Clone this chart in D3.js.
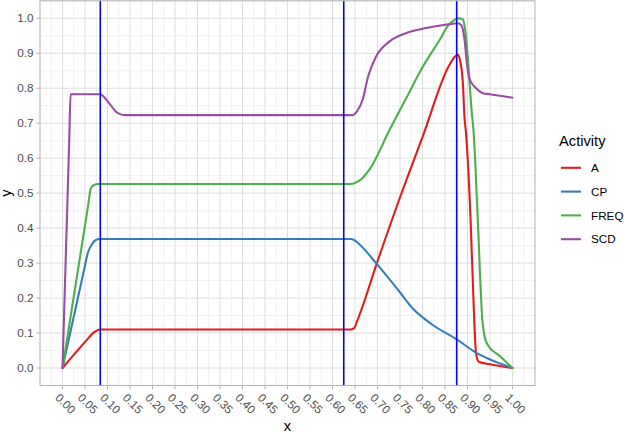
<!DOCTYPE html>
<html>
<head>
<meta charset="utf-8">
<script src="https://cdn.jsdelivr.net/npm/d3@7"></script>
<style>
  body { margin: 0; background: #fff; }
  text { font-family: "Liberation Sans", Arial, sans-serif; }
</style>
</head>
<body>
<div id="chart"></div>
<script>
// Data
var activities = ["A", "CP", "FREQ", "SCD"];

var aX = [0, 0.06, 0.067, 0.076, 0.084, 0.64, 0.648, 0.655, 0.70, 0.756, 0.80, 0.86, 0.872, 0.878, 0.884, 0.89, 0.893, 0.897, 0.907, 0.914, 0.919, 0.925, 0.95, 1.0];
var aY = [0, 0.089, 0.099, 0.107, 0.11, 0.11, 0.114, 0.135, 0.305, 0.509, 0.66, 0.867, 0.89, 0.896, 0.876, 0.81, 0.724, 0.667, 0.42, 0.17, 0.042, 0.018, 0.0105, 0];

var cpX = [0, 0.05, 0.056, 0.066, 0.074, 0.082, 0.64, 0.648, 0.656, 0.697, 0.749, 0.778, 0.823, 0.876, 0.919, 0.949, 1.0];
var cpY = [0, 0.293, 0.328, 0.355, 0.366, 0.369, 0.369, 0.366, 0.358, 0.30, 0.218, 0.171, 0.123, 0.082, 0.044, 0.025, 0];

var freqX = [0, 0.057, 0.063, 0.07, 0.078, 0.64, 0.655, 0.668, 0.682, 0.727, 0.764, 0.801, 0.838, 0.858, 0.872, 0.878, 0.885, 0.89, 0.897, 0.903, 0.908, 0.914, 0.923, 0.933, 0.938, 0.945, 0.972, 1.0];
var freqY = [0, 0.465, 0.514, 0.523, 0.526, 0.526, 0.532, 0.545, 0.567, 0.681, 0.772, 0.862, 0.938, 0.981, 0.996, 1.0, 0.999, 0.996, 0.943, 0.848, 0.753, 0.667, 0.42, 0.137, 0.09, 0.066, 0.034, 0];

var scdX = [0, 0.015, 0.018, 0.084, 0.09, 0.097, 0.104, 0.112, 0.119, 0.128, 0.138, 0.645, 0.655, 0.667, 0.679, 0.697, 0.727, 0.764, 0.808, 0.858, 0.878, 0.886, 0.893, 0.899, 0.904, 0.912, 0.919, 0.934, 0.949, 1.0];
var scdY = [0, 0.653, 0.783, 0.783, 0.778, 0.768, 0.757, 0.743, 0.733, 0.726, 0.723, 0.723, 0.735, 0.767, 0.833, 0.891, 0.934, 0.958, 0.972, 0.983, 0.986, 0.981, 0.943, 0.867, 0.829, 0.81, 0.80, 0.786, 0.783, 0.773];

var vlineX = [0.084, 0.625, 0.876];

var xTicks = [0, 0.05, 0.1, 0.15, 0.2, 0.25, 0.3, 0.35, 0.4, 0.45, 0.5, 0.55, 0.6, 0.65, 0.7, 0.75, 0.8, 0.85, 0.9, 0.95, 1.0];
var xTickLabels = ["0.00", "0.05", "0.10", "0.15", "0.20", "0.25", "0.30", "0.35", "0.40", "0.45", "0.50",
  "0.55", "0.60", "0.65", "0.70", "0.75", "0.80", "0.85", "0.90", "0.95", "1.00"];
var yTicks = [0, 0.1, 0.2, 0.3, 0.4, 0.5, 0.6, 0.7, 0.8, 0.9, 1.0];
var yTickLabels = ["0.0", "0.1", "0.2", "0.3", "0.4", "0.5", "0.6", "0.7", "0.8", "0.9", "1.0"];

// Build series from the arrays
var seriesX = [aX, cpX, freqX, scdX];
var seriesY = [aY, cpY, freqY, scdY];
var series = activities.map(function(name, i) {
  return { name: name, values: seriesX[i].map(function(x, j) { return { x: x, y: seriesY[i][j] }; }) };
});

var svgWidth = 625;
var svgHeight = 434;

// Panel area in pixels
var panel = { left: 40, right: 535, top: 0.8, bottom: 385.5 };

var svg = d3.select("#chart")
  .append("svg")
  .attr("width", svgWidth)
  .attr("height", svgHeight);

var xScale = d3.scaleLinear().domain([-0.05, 1.05]).range([panel.left, panel.right]);
var yScale = d3.scaleLinear().domain([-0.05, 1.05]).range([panel.bottom, panel.top]);

var color = d3.scaleOrdinal().domain(activities).range(d3.schemeSet1.slice(0, 4));

// minor grid
var xMinor = xTicks.map(function(t) { return t - 0.025; }).concat([1.025]);
var yMinor = yTicks.map(function(t) { return t - 0.05; }).concat([1.05]);

var grid = svg.append("g");
grid.selectAll(".xminor")
  .data(xMinor)
  .enter().append("line")
  .attr("x1", d => xScale(d)).attr("x2", d => xScale(d))
  .attr("y1", panel.top).attr("y2", panel.bottom)
  .attr("stroke", "#ededed").attr("stroke-width", 0.8);
grid.selectAll(".yminor")
  .data(yMinor)
  .enter().append("line")
  .attr("y1", d => yScale(d)).attr("y2", d => yScale(d))
  .attr("x1", panel.left).attr("x2", panel.right)
  .attr("stroke", "#ededed").attr("stroke-width", 0.8);

// major grid
grid.selectAll(".xmajor")
  .data(xTicks)
  .enter().append("line")
  .attr("x1", d => xScale(d)).attr("x2", d => xScale(d))
  .attr("y1", panel.top).attr("y2", panel.bottom)
  .attr("stroke", "#dedede").attr("stroke-width", 1);
grid.selectAll(".ymajor")
  .data(yTicks)
  .enter().append("line")
  .attr("y1", d => yScale(d)).attr("y2", d => yScale(d))
  .attr("x1", panel.left).attr("x2", panel.right)
  .attr("stroke", "#dedede").attr("stroke-width", 1);

// lines
var line = d3.line()
  .x(d => xScale(d.x))
  .y(d => yScale(d.y))
  .curve(d3.curveMonotoneX);

svg.append("g").selectAll("path")
  .data(series)
  .enter().append("path")
  .attr("d", d => line(d.values))
  .attr("fill", "none")
  .attr("stroke", d => color(d.name))
  .attr("stroke-width", 2.1)
  .attr("stroke-linejoin", "round")
  .attr("stroke-linecap", "round");

// vertical reference lines
svg.append("g").selectAll("line")
  .data(vlineX)
  .enter().append("line")
  .attr("x1", d => xScale(d)).attr("x2", d => xScale(d))
  .attr("y1", panel.top).attr("y2", panel.bottom)
  .attr("stroke", "#0000ff").attr("stroke-width", 1.6);

// panel border
svg.append("rect")
  .attr("x", panel.left).attr("y", panel.top)
  .attr("width", panel.right - panel.left).attr("height", panel.bottom - panel.top)
  .attr("fill", "none").attr("stroke", "#b3b3b3").attr("stroke-width", 1);

// y axis
var yAxis = svg.append("g");
yAxis.selectAll("line")
  .data(yTicks)
  .enter().append("line")
  .attr("x1", panel.left - 3.7).attr("x2", panel.left)
  .attr("y1", d => yScale(d)).attr("y2", d => yScale(d))
  .attr("stroke", "#b3b3b3");
yAxis.selectAll("text")
  .data(yTicks)
  .enter().append("text")
  .attr("x", panel.left - 6.6)
  .attr("y", d => yScale(d))
  .attr("dy", "0.35em")
  .attr("text-anchor", "end")
  .attr("font-size", "11.7px")
  .attr("fill", "#4d4d4d")
  .text((d, i) => yTickLabels[i]);

// x axis
var xAxis = svg.append("g");
xAxis.selectAll("line")
  .data(xTicks)
  .enter().append("line")
  .attr("y1", panel.bottom).attr("y2", panel.bottom + 3.7)
  .attr("x1", d => xScale(d)).attr("x2", d => xScale(d))
  .attr("stroke", "#b3b3b3");
xAxis.selectAll("text")
  .data(xTicks)
  .enter().append("text")
  .attr("transform", d => `translate(${xScale(d) - 2}, ${panel.bottom + 7}) rotate(45)`)
  .attr("dy", "0.72em")
  .attr("text-anchor", "start")
  .attr("font-size", "11.7px")
  .attr("fill", "#4d4d4d")
  .text((d, i) => xTickLabels[i]);

// axis titles
svg.append("text")
  .attr("x", (panel.left + panel.right) / 2)
  .attr("y", 431)
  .attr("text-anchor", "middle")
  .attr("font-size", "14.7px")
  .attr("fill", "#000")
  .text("x");

svg.append("text")
  .attr("transform", `translate(11, ${(panel.top + panel.bottom) / 2}) rotate(-90)`)
  .attr("text-anchor", "middle")
  .attr("font-size", "14.7px")
  .attr("fill", "#000")
  .text("y");

// legend
var legend = svg.append("g");
legend.append("text")
  .attr("x", 559)
  .attr("y", 145.5)
  .attr("font-size", "14.7px")
  .attr("fill", "#000")
  .text("Activity");

var keys = legend.selectAll(".key")
  .data(activities)
  .enter().append("g")
  .attr("transform", (d, i) => `translate(0, ${167.8 + i * 23.8})`);
keys.append("line")
  .attr("x1", 561).attr("x2", 581)
  .attr("y1", 0).attr("y2", 0)
  .attr("stroke", d => color(d))
  .attr("stroke-width", 2.1);
keys.append("text")
  .attr("x", 591)
  .attr("y", 0)
  .attr("dy", "0.36em")
  .attr("font-size", "11.7px")
  .attr("fill", "#000")
  .text(d => d);
</script>
</body>
</html>
